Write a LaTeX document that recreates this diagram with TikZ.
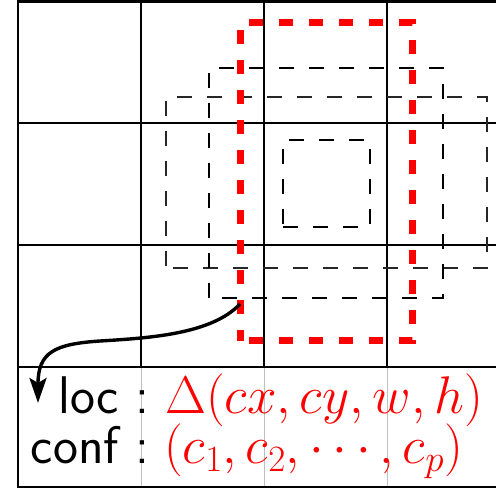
\documentclass[tikz,border=0pt]{standalone}
\usepackage{fix-cm}
\usetikzlibrary{arrows.meta}
\begin{document}
\begin{tikzpicture}[x=1pt,y=-1pt,
  thingrid/.style={line width=1.4pt,black},
  thickgrid/.style={line width=2.8pt,black},
  faintgrid/.style={line width=1pt,black!25},
  blackbox/.style={draw=black,line width=1.6pt,dash pattern=on 15pt off 15pt,rectangle,inner sep=0pt,outer sep=0pt},
  redbox/.style={draw=red,line width=7pt,dash pattern=on 14pt off 16pt,dash phase=21pt,rectangle,inner sep=0pt,outer sep=0pt},
  lbl/.style={inner sep=0pt,font=\fontsize{53}{63}\selectfont\sffamily},
  mth/.style={inner sep=0pt,text=red,font=\fontsize{53}{63}\selectfont},
  pointer/.style={-{Stealth[length=25pt,width=17pt,inset=5pt]},line width=3.4pt,black}
]
\useasboundingbox (0,0) rectangle (496,489);
% grid
\foreach \x in {141,264,387} \draw[faintgrid] (\x,367) -- (\x,487);
\foreach \x in {141,264,387} \draw[thingrid] (\x,1) -- (\x,367);
\draw[thingrid] (18,123) -- (496,123);
\draw[thingrid] (18,367) -- (496,367);
\draw[thickgrid] (18,1.2) -- (496,1.2);
\draw[thickgrid] (18,245) -- (496,245);
\draw[thickgrid] (18,487) -- (496,487);
\draw[thickgrid] (18,0) -- (18,488.4);
% default boxes
\node[blackbox,dash phase=23pt,draw=black!85,line width=1.2pt,minimum width=321pt,minimum height=171pt] (wide) at (326.5,182.5) {};
\node[blackbox,dash phase=17pt,minimum width=234pt,minimum height=230pt] (large) at (326,183) {};
\node[blackbox,dash phase=0pt,minimum width=87pt,minimum height=87pt] (small) at (326.5,183.5) {};
\node[redbox,minimum width=172pt,minimum height=318pt] (tall) at (326,182) {};
% texts
\node[lbl,anchor=base east] (loclbl) at (149.5,413.5) {loc :};
\node[mth,anchor=base west] (locval) at (165,413.5) {$\Delta(cx,cy,w,h)$};
\node[lbl,anchor=base east] (conflbl) at (149.5,464) {conf :};
\node[mth,anchor=base west] (confval) at (164,464) {$(c_1,c_2,\cdots,c_p)$};
% pointer
\coordinate (from) at ([yshift=37pt]tall.south west);
\coordinate (tip) at (38,403);
\draw[pointer] (from) .. controls (212,334) and (150,338) .. (100,341)
  .. controls (55,344) and (38,352) .. (tip);
\end{tikzpicture}
\end{document}
